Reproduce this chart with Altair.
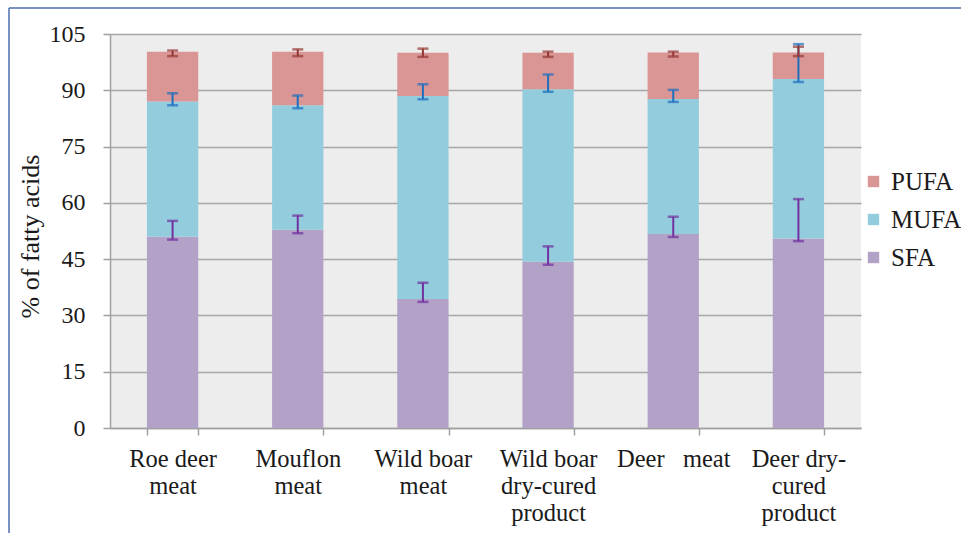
import altair as alt
import pandas as pd

categories = ["Roe deer\nmeat", "Mouflon\nmeat", "Wild boar\nmeat",
              "Wild boar\ndry-cured\nproduct", "Deer\u00a0\u00a0 meat", "Deer dry-\ncured\nproduct"]
series = ["PUFA", "MUFA", "SFA"]

SFA = [51.0, 52.8, 34.4, 44.3, 51.7, 50.5]
MUFA = [36.0, 33.2, 54.1, 46.0, 36.0, 42.5]
PUFA = [13.3, 14.3, 11.5, 9.7, 12.4, 7.1]

SFA_lo = [50.2, 51.9, 33.6, 43.5, 50.9, 49.8]
SFA_hi = [55.2, 56.6, 38.7, 48.4, 56.3, 61.0]
MUFA_lo = [86.0, 85.2, 87.6, 89.6, 86.9, 92.2]
MUFA_hi = [89.2, 88.6, 91.6, 94.2, 90.1, 102.3]
PUFA_lo = [99.1, 99.1, 98.9, 98.9, 99.0, 99.1]
PUFA_hi = [100.6, 100.9, 101.1, 100.3, 100.3, 101.6]

bar_colors = ["#D99694", "#93CDDD", "#B3A2C7"]
err_colors = ["#953735", "#1F6FBF", "#7030A0"]

rows = []
for i, c in enumerate(categories):
    b0 = 0.0
    for name, vals, lo, hi in [("SFA", SFA, SFA_lo, SFA_hi),
                               ("MUFA", MUFA, MUFA_lo, MUFA_hi),
                               ("PUFA", PUFA, PUFA_lo, PUFA_hi)]:
        rows.append({"cat": c, "series": name, "base": b0, "top": b0 + vals[i],
                     "lo": lo[i], "hi": hi[i]})
        b0 += vals[i]
df = pd.DataFrame(rows)

FONT = "Liberation Serif"

xenc = alt.X("cat:N", sort=categories, title=None,
             scale=alt.Scale(paddingInner=0.59, paddingOuter=0.295),
             axis=alt.Axis(labelExpr="split(datum.label, '\\n')", labelAngle=0,
                           labelFontSize=24.5, labelLineHeight=27, labelPadding=12,
                           labelColor="#1a1a1a", labelFont=FONT,
                           tickBand="extent", tickSize=7, tickColor="#A0A0A0",
                           tickWidth=1.5, domainColor="#A0A0A0", domainWidth=1.5,
                           grid=False, labelBaseline="top"))

yscale = alt.Scale(domain=[0, 105], nice=False)

base = alt.Chart(df)

bars = base.mark_bar().encode(
    x=xenc,
    y=alt.Y("base:Q", scale=yscale, title="% of fatty acids",
            axis=alt.Axis(values=[0, 15, 30, 45, 60, 75, 90, 105], labelFontSize=24,
                          labelFont=FONT, labelColor="#1a1a1a", labelPadding=18,
                          tickSize=7, tickColor="#A0A0A0", tickWidth=1.5,
                          domainColor="#A0A0A0", domainWidth=1.5,
                          gridColor="#A6A6A6", gridWidth=1.5,
                          titleFont=FONT, titleFontSize=26, titleFontWeight="normal",
                          titleColor="#1a1a1a", titleX=-80, titleY=202,
                          titleAngle=-90, titleBaseline="middle", titleAlign="center")),
    y2="top:Q",
    color=alt.Color("series:N", scale=alt.Scale(domain=series, range=bar_colors),
                    legend=alt.Legend(title=None, orient="none", legendX=751, legendY=135,
                                      symbolType="square", symbolSize=130,
                                      symbolStrokeWidth=0, labelFont=FONT,
                                      labelFontSize=25, labelColor="#1a1a1a",
                                      rowPadding=12, labelOffset=5)),
)

err_color = alt.Color("series:N", scale=alt.Scale(domain=series, range=err_colors), legend=None)

rules = base.mark_rule(strokeWidth=2).encode(
    x=alt.X("cat:N", sort=categories), y=alt.Y("lo:Q", scale=yscale), y2="hi:Q", color=err_color)
cap_lo = base.mark_tick(size=11, thickness=2.5).encode(
    x=alt.X("cat:N", sort=categories), y=alt.Y("lo:Q", scale=yscale), color=err_color)
cap_hi = base.mark_tick(size=11, thickness=2.5).encode(
    x=alt.X("cat:N", sort=categories), y=alt.Y("hi:Q", scale=yscale), color=err_color)

frame_data = alt.Data(values=[{"k": 1}])
frame_left = alt.Chart(frame_data).mark_rule(color="#4A6EAF", strokeWidth=1.5).encode(
    x=alt.value(-101), y=alt.value(-26), y2=alt.value(520))
frame_top = alt.Chart(frame_data).mark_rule(color="#4A6EAF", strokeWidth=1.5).encode(
    x=alt.value(-101), x2=alt.value(851), y=alt.value(-26))

errs = alt.layer(rules, cap_lo, cap_hi)

chart = alt.layer(bars, errs, frame_left, frame_top).resolve_scale(color="independent").properties(
    width=751, height=394,
    autosize=alt.AutoSizeParams(type="none"),
    padding={"left": 110, "top": 34, "right": 100, "bottom": 105},
    background="white",
).configure(font=FONT).configure_axis(labelFont=FONT, titleFont=FONT).configure_legend(
    labelFont=FONT).configure_view(fill="#EDEDED", stroke=None)

chart.save("out.html", embed_options={"renderer": "svg", "actions": False})
